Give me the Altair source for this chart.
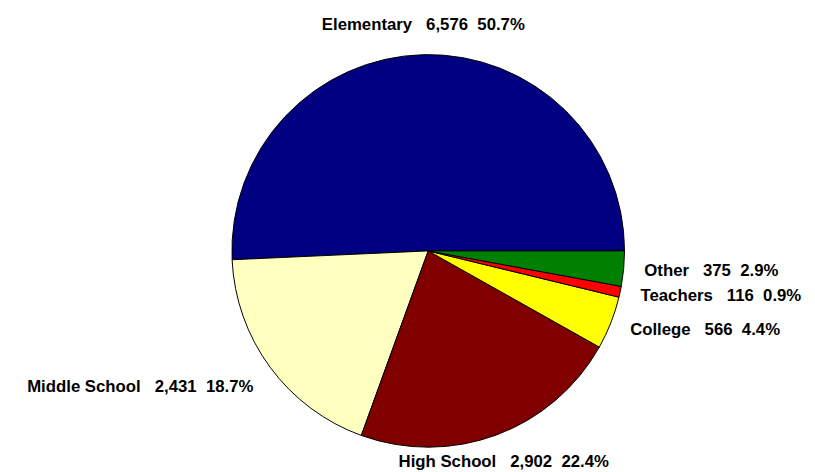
import math
import altair as alt
import pandas as pd

categories = ["Elementary", "Middle School", "High School", "College", "Teachers", "Other"]
counts = [6576, 2431, 2902, 566, 116, 375]
percents = [50.7, 18.7, 22.4, 4.4, 0.9, 2.9]
colors = ["#000080", "#FFFFC0", "#800000", "#FFFF00", "#FF0000", "#008000"]

GAP1 = "\u00a0\u00a0\u00a0"
GAP2 = "\u00a0\u00a0"

total = sum(counts)
rows = []
cum = 0
for i, (c, n, p) in enumerate(zip(categories, counts, percents)):
    mid = cum + n / 2
    cum += n
    ang = mid / total * 2 * math.pi  # counter-clockwise from east
    cs, sn = math.cos(ang), math.sin(ang)
    if cs > 0.4:
        side = "right"
    elif cs < -0.4:
        side = "left"
    elif sn > 0:
        side = "top"
    else:
        side = "bottom"
    rows.append({"category": c, "count": n, "idx": i, "mid": mid,
                 "label": f"{c}{GAP1}{n:,}{GAP2}{p:.1f}%", "side": side})
df = pd.DataFrame(rows)

theta_scale = alt.Scale(domain=[0, total], range=[2.5 * math.pi, 0.5 * math.pi])
CX, CY = 421, 233

base = alt.Chart(df)

pie = base.mark_arc(radius=199, stroke="black", strokeWidth=1).encode(
    theta=alt.Theta("count:Q", stack=True, scale=theta_scale),
    order=alt.Order("idx:Q", sort="ascending"),
    color=alt.Color("category:N", scale=alt.Scale(domain=categories, range=colors), legend=None),
    x=alt.value(CX),
    y=alt.value(CY),
)

def label_layer(side, align, baseline):
    return base.transform_filter(alt.datum.side == side).mark_text(
        radius=220, align=align, baseline=baseline, fontSize=17,
        fontWeight="bold", font="Liberation Sans", color="black"
    ).encode(
        theta=alt.Theta("mid:Q", stack=None, scale=theta_scale),
        text="label:N",
        x=alt.value(CX),
        y=alt.value(CY),
    )

chart = alt.layer(
    pie,
    label_layer("right", "left", "middle"),
    label_layer("left", "right", "top"),
    label_layer("top", "center", "bottom"),
    label_layer("bottom", "center", "top"),
).properties(width=780, height=440, background="white").configure_view(stroke=None)

chart.save("out.html", embed_options={"renderer": "svg", "actions": False})
